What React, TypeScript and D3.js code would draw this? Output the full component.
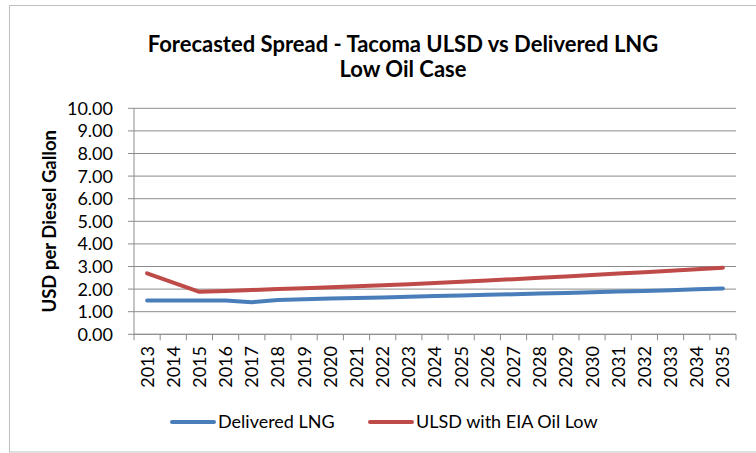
import React from "react";
import * as d3 from "d3";

const years = [
  "2013","2014","2015","2016","2017","2018","2019","2020","2021","2022","2023","2024",
  "2025","2026","2027","2028","2029","2030","2031","2032","2033","2034","2035",
];
const lngValues = [
  1.5, 1.5, 1.5, 1.5, 1.42, 1.52, 1.55, 1.58, 1.61, 1.63, 1.66, 1.69,
  1.72, 1.75, 1.77, 1.8, 1.83, 1.86, 1.89, 1.92, 1.95, 1.99, 2.03,
];
const ulsdValues = [
  2.7, 2.29, 1.88, 1.92, 1.96, 2.0, 2.04, 2.08, 2.13, 2.17, 2.22, 2.27,
  2.32, 2.38, 2.44, 2.5, 2.56, 2.62, 2.69, 2.75, 2.81, 2.88, 2.95,
];
const yTicks = [0, 1, 2, 3, 4, 5, 6, 7, 8, 9, 10];
const seriesNames = ["Delivered LNG", "ULSD with EIA Oil Low"];
const seriesColors = ["#4a7ebb", "#be4b48"];
const titleLines = ["Forecasted Spread - Tacoma ULSD vs Delivered LNG", "Low Oil Case"];
const yAxisTitle = "USD per Diesel Gallon";

const FONT = "Lato, 'Open Sans', sans-serif";

export default function App() {
  const W = 756, H = 453;
  const left = 134, right = 736, top = 108.3, bottom = 334.3;
  const x = d3.scaleBand<string>().domain(years).range([left, right]);
  const y = d3.scaleLinear().domain([0, 10]).range([bottom, top]);
  const line = d3
    .line<number>()
    .x((_, i) => (x(years[i]) as number) + x.bandwidth() / 2)
    .y((d) => y(d));
  const series = [lngValues, ulsdValues];
  const boundaries = years.map((yr) => x(yr) as number).concat([right]);

  return (
    <svg
      width={W}
      height={H}
      style={{ position: "absolute", left: 0, top: 0, background: "#fff" }}
      fontFamily={FONT}
    >
      <rect x={9.5} y={5.5} width={800} height={446.5} fill="#fff" stroke="#bfbfbf" strokeWidth={1} />
      {titleLines.map((t, i) => (
        <text
          key={t}
          x={403}
          y={51.5 + i * 25.5}
          textAnchor="middle"
          fontWeight="bold"
          fontSize={22}
          fill="#000"
        >
          {t}
        </text>
      ))}
      {yTicks.map((t) => (
        <g key={t}>
          <line x1={left} x2={right} y1={y(t)} y2={y(t)} stroke="#8c8c8c" strokeWidth={1} />
          <line x1={left - 6} x2={left} y1={y(t)} y2={y(t)} stroke="#8c8c8c" strokeWidth={1} />
          <text x={113} y={y(t)} dy="0.36em" textAnchor="end" fontSize={18} fill="#000">
            {t.toFixed(2)}
          </text>
        </g>
      ))}
      <line x1={left} x2={left} y1={top} y2={bottom} stroke="#8c8c8c" strokeWidth={1} />
      <line x1={left} x2={right} y1={bottom} y2={bottom} stroke="#8c8c8c" strokeWidth={1} />
      {boundaries.map((bx, i) => (
        <line key={i} x1={bx} x2={bx} y1={bottom} y2={bottom + 6} stroke="#8c8c8c" strokeWidth={1} />
      ))}
      {years.map((yr) => {
        const cx = (x(yr) as number) + x.bandwidth() / 2;
        return (
          <text
            key={yr}
            transform={`translate(${cx},${346}) rotate(-90)`}
            textAnchor="end"
            dy="0.36em"
            fontSize={18}
            fill="#000"
          >
            {yr}
          </text>
        );
      })}
      <text
        transform={`translate(49,${(top + bottom) / 2}) rotate(-90)`}
        textAnchor="middle"
        dy="0.36em"
        fontWeight="bold"
        fontSize={18.5}
        fill="#000"
      >
        {yAxisTitle}
      </text>
      {series.map((s, i) => (
        <path
          key={i}
          d={line(s) || ""}
          fill="none"
          stroke={seriesColors[i]}
          strokeWidth={4}
          strokeLinejoin="round"
          strokeLinecap="round"
        />
      ))}
      {seriesNames.map((n, i) => {
        const lx = i === 0 ? 172 : 370;
        return (
          <g key={n}>
            <line x1={lx} x2={lx + 42} y1={422} y2={422} stroke={seriesColors[i]} strokeWidth={4} strokeLinecap="round" />
            <text x={lx + 46} y={422} dy="0.36em" fontSize={18} fill="#000">
              {n}
            </text>
          </g>
        );
      })}
    </svg>
  );
}
